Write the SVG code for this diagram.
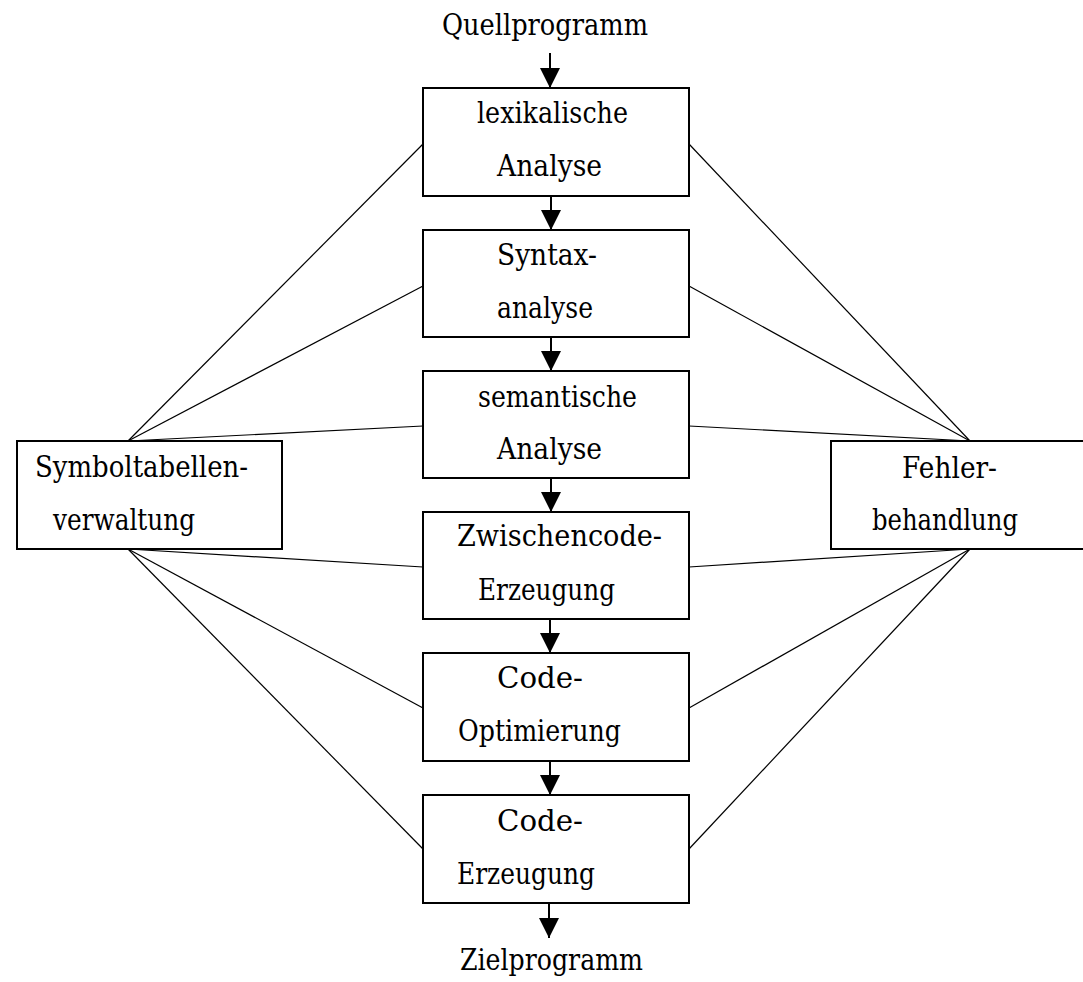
<svg xmlns="http://www.w3.org/2000/svg" width="1083" height="982" viewBox="0 0 1083 982">
  <style>
    .box { fill: #fff; stroke: #000; stroke-width: 2; }
    .link { stroke: #000; stroke-width: 1.2; fill: none; }
    .flow { stroke: #000; stroke-width: 2; fill: none; marker-end: url(#head); }
    .lbl text { font-family: "DejaVu Serif", "Liberation Serif", serif; font-size: 30px; fill: #000; }
  </style>
  <defs>
    <marker id="head" viewBox="0 0 20 20" refX="20" refY="10" markerWidth="20" markerHeight="20" markerUnits="userSpaceOnUse" orient="auto">
      <path d="M0,0 L20,10 L0,20 Z" fill="#000"/>
    </marker>
  </defs>

  <rect width="1083" height="982" fill="#fff"/>

  <!-- links from the side boxes to every phase -->
  <g id="connectors">
    <line class="link" x1="128" y1="441" x2="423" y2="144"/>
    <line class="link" x1="128" y1="441" x2="423" y2="286"/>
    <line class="link" x1="128" y1="441" x2="423" y2="426"/>
    <line class="link" x1="128" y1="549" x2="423" y2="567"/>
    <line class="link" x1="128" y1="549" x2="423" y2="708"/>
    <line class="link" x1="128" y1="549" x2="423" y2="849"/>
    <line class="link" x1="970" y1="441" x2="689" y2="144"/>
    <line class="link" x1="970" y1="441" x2="689" y2="286"/>
    <line class="link" x1="970" y1="441" x2="689" y2="426"/>
    <line class="link" x1="970" y1="549" x2="689" y2="567"/>
    <line class="link" x1="970" y1="549" x2="689" y2="708"/>
    <line class="link" x1="970" y1="549" x2="689" y2="849"/>

    <!-- main flow arrows -->
    <line class="flow" x1="550" y1="53" x2="550" y2="88"/>
    <line class="flow" x1="551" y1="196" x2="551" y2="230"/>
    <line class="flow" x1="551" y1="337" x2="551" y2="371"/>
    <line class="flow" x1="551" y1="478" x2="551" y2="512"/>
    <line class="flow" x1="550" y1="619" x2="550" y2="653"/>
    <line class="flow" x1="550" y1="761" x2="550" y2="795"/>
    <line class="flow" x1="549" y1="903" x2="549" y2="938"/>
  </g>

  <g class="lbl">
    <g id="source">
      <text x="442" y="35" textLength="206" lengthAdjust="spacingAndGlyphs">Quellprogramm</text>
    </g>

    <g id="lexer">
      <rect class="box" x="423" y="88" width="266" height="108"/>
      <text x="477" y="123" textLength="151" lengthAdjust="spacingAndGlyphs">lexikalische</text>
      <text x="497" y="176" textLength="105" lengthAdjust="spacingAndGlyphs">Analyse</text>
    </g>

    <g id="parser">
      <rect class="box" x="423" y="230" width="266" height="107"/>
      <text x="497" y="265" textLength="100" lengthAdjust="spacingAndGlyphs">Syntax-</text>
      <text x="497" y="318" textLength="96" lengthAdjust="spacingAndGlyphs">analyse</text>
    </g>

    <g id="semantic">
      <rect class="box" x="423" y="371" width="266" height="107"/>
      <text x="478" y="407" textLength="159" lengthAdjust="spacingAndGlyphs">semantische</text>
      <text x="497" y="459" textLength="105" lengthAdjust="spacingAndGlyphs">Analyse</text>
    </g>

    <g id="intermediate">
      <rect class="box" x="423" y="512" width="266" height="107"/>
      <text x="457" y="546" textLength="205" lengthAdjust="spacingAndGlyphs">Zwischencode-</text>
      <text x="478" y="600" textLength="137" lengthAdjust="spacingAndGlyphs">Erzeugung</text>
    </g>

    <g id="optimizer">
      <rect class="box" x="423" y="653" width="266" height="108"/>
      <text x="497" y="688" textLength="86" lengthAdjust="spacingAndGlyphs">Code-</text>
      <text x="458" y="741" textLength="163" lengthAdjust="spacingAndGlyphs">Optimierung</text>
    </g>

    <g id="codegen">
      <rect class="box" x="423" y="795" width="266" height="108"/>
      <text x="497" y="831" textLength="86" lengthAdjust="spacingAndGlyphs">Code-</text>
      <text x="457" y="884" textLength="138" lengthAdjust="spacingAndGlyphs">Erzeugung</text>
    </g>

    <g id="target">
      <text x="460" y="970" textLength="183" lengthAdjust="spacingAndGlyphs">Zielprogramm</text>
    </g>

    <g id="symbol-table">
      <rect class="box" x="17" y="441" width="265" height="108"/>
      <text x="35" y="477" textLength="213" lengthAdjust="spacingAndGlyphs">Symboltabellen-</text>
      <text x="53" y="530" textLength="142" lengthAdjust="spacingAndGlyphs">verwaltung</text>
    </g>

    <g id="error-handling">
      <rect class="box" x="831" y="441" width="260" height="108"/>
      <text x="902" y="478" textLength="95" lengthAdjust="spacingAndGlyphs">Fehler-</text>
      <text x="872" y="530" textLength="146" lengthAdjust="spacingAndGlyphs">behandlung</text>
    </g>
  </g>
</svg>
